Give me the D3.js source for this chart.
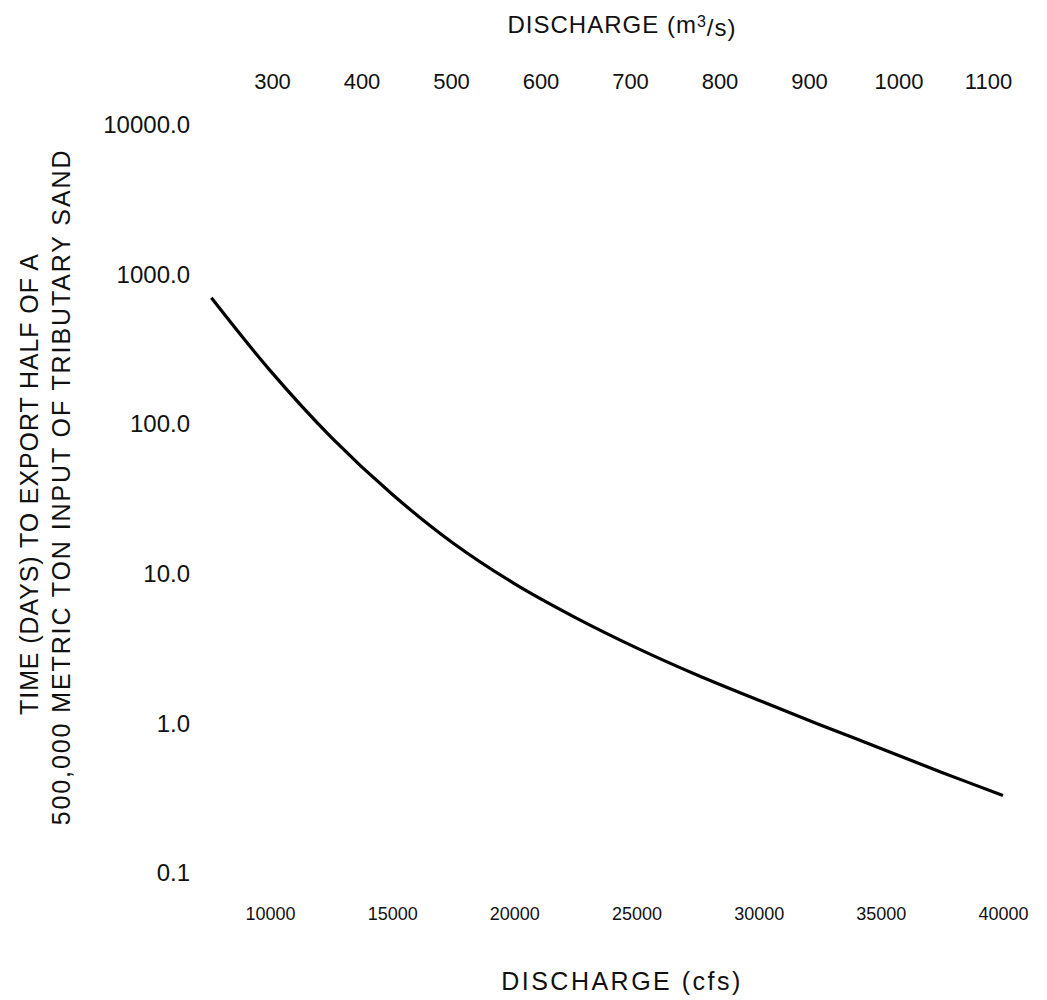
<!DOCTYPE html>
<html lang="en">
<head>
  <meta charset="utf-8">
  <title>Sand export time vs discharge</title>
  <script src="https://d3js.org/d3.v7.min.js"></script>
</head>
<style>
  body { margin: 0; background: #fff; }
  text { font-family: "Liberation Sans", Arial, sans-serif; fill: #111; }
</style>
<body>
  <div class="chart"></div>
</body>
<script>
// values
var cfsTicks = [10000, 15000, 20000, 25000, 30000, 35000, 40000];
var cmsTicks = [300, 400, 500, 600, 700, 800, 900, 1000, 1100];
var dayTicks = [0.1, 1, 10, 100, 1000, 10000];

var curveCfs  = [7600, 10000, 12500, 15000, 17500, 20000, 22500, 25000, 27500, 30000, 32500, 35000, 37500, 40000];
var curveDays = [700, 229, 82, 34, 16, 8.6, 5.1, 3.2, 2.1, 1.43, 0.98, 0.68, 0.47, 0.33];

var width = 1047, height = 1000;

var svg = d3.select(".chart")
  .append("svg")
  .attr("width", width)
  .attr("height", height);

var x = d3.scaleLinear().domain([10000, 40000]).range([270, 1003]);
var xTop = d3.scaleLinear().domain([300, 1100]).range([272, 988]);
var y = d3.scaleLog().domain([0.1, 10000]).range([873, 125]);

// bottom axis (labels only)
var axisB = svg.append("g")
  .attr("transform", "translate(0,904)")
  .call(d3.axisBottom(x).tickValues(cfsTicks).tickFormat(d3.format("d")).tickSize(0));
axisB.select(".domain").remove();
axisB.selectAll("text").style("font-size", "18px").attr("dy", "0.71em");

// top axis (labels only)
var axisT = svg.append("g")
  .attr("transform", "translate(0,92)")
  .call(d3.axisTop(xTop).tickValues(cmsTicks).tickFormat(d3.format("d")).tickSize(0));
axisT.select(".domain").remove();
axisT.selectAll("text").style("font-size", "22px");

// left axis (labels only)
var axisL = svg.append("g")
  .attr("transform", "translate(193,0)")
  .call(d3.axisLeft(y).tickValues(dayTicks).tickFormat(d3.format(".1f")).tickSize(0));
axisL.select(".domain").remove();
axisL.selectAll("text").style("font-size", "24px");

// curve
var line = d3.line()
  .curve(d3.curveCatmullRom)
  .x(function(d, i){ return x(curveCfs[i]); })
  .y(function(d){ return y(d); });

svg.append("path")
  .datum(curveDays)
  .attr("d", line)
  .attr("fill", "none")
  .attr("stroke", "#000")
  .attr("stroke-width", 3.2);

// axis titles
var topTitle = svg.append("text")
  .attr("x", 622)
  .attr("y", 33)
  .style("text-anchor", "middle")
  .style("font-size", "24px")
  .style("letter-spacing", "1px");
topTitle.append("tspan").text("DISCHARGE (m");
topTitle.append("tspan").text("3").attr("dy", "-0.4em").style("font-size", "16px");
topTitle.append("tspan").text("/s)").attr("dy", "0.4em");

svg.append("text")
  .attr("x", 622)
  .attr("y", 990)
  .style("text-anchor", "middle")
  .style("font-size", "25px")
  .style("letter-spacing", "2.5px")
  .text("DISCHARGE (cfs)");

svg.append("text")
  .attr("transform", "translate(38,484) rotate(-90)")
  .style("text-anchor", "middle")
  .style("font-size", "25px")
  .style("letter-spacing", "0.9px")
  .text("TIME (DAYS) TO EXPORT HALF OF A");

svg.append("text")
  .attr("transform", "translate(70,487) rotate(-90)")
  .style("text-anchor", "middle")
  .style("font-size", "25px")
  .style("letter-spacing", "1.9px")
  .text("500,000 METRIC TON INPUT OF TRIBUTARY SAND");
</script>
</html>
